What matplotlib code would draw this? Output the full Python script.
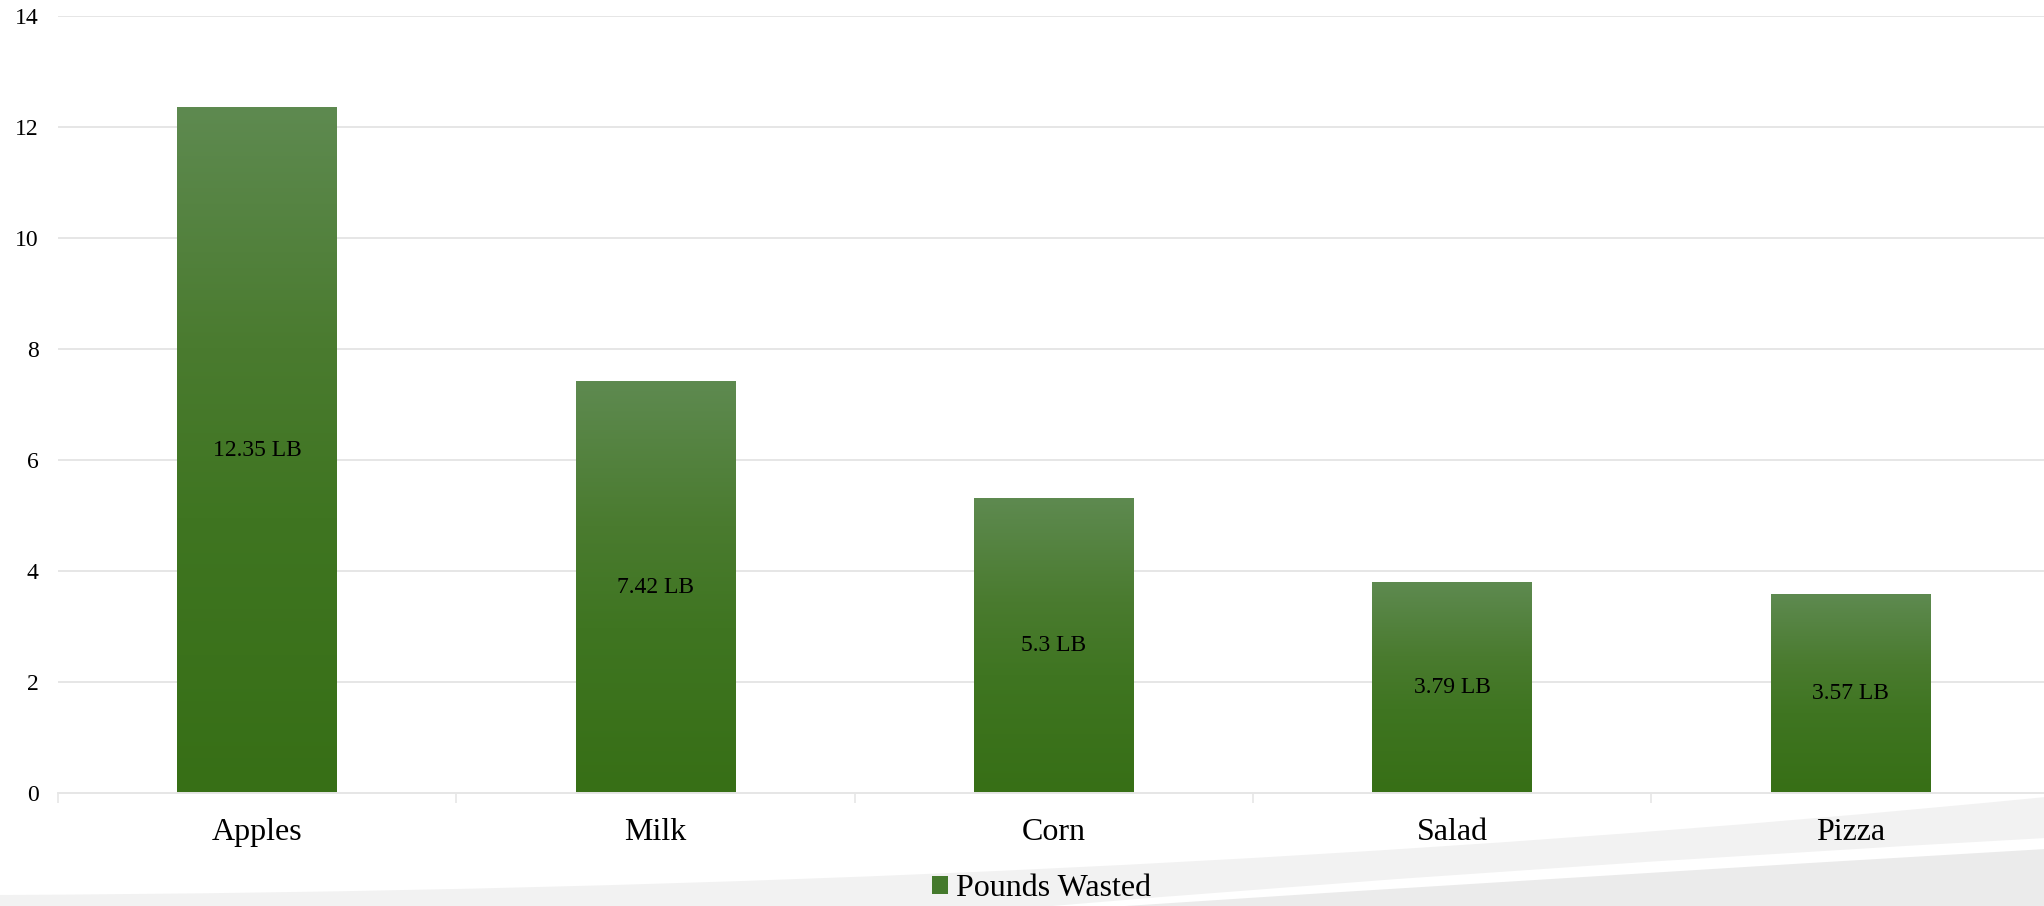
"""Pounds of food wasted per item (bar chart with gradient fills)."""

import matplotlib
matplotlib.use("Agg")
import matplotlib.pyplot as plt  # noqa: E402
import numpy as np  # noqa: E402
from matplotlib.colors import LinearSegmentedColormap  # noqa: E402
from matplotlib.patches import Patch, PathPatch  # noqa: E402
from matplotlib.path import Path  # noqa: E402

categories = ["Apples", "Milk", "Corn", "Salad", "Pizza"]
pounds = [12.35, 7.42, 5.3, 3.79, 3.57]
y_ticks = [0, 2, 4, 6, 8, 10, 12, 14]
series_name = "Pounds Wasted"

W, H = 2044, 906
FONT = ["Liberation Serif", "DejaVu Serif"]
# bottom -> top of each bar
GREEN_STOPS = [(0.0, "#376f16"), (0.4, "#3f7521"), (0.65, "#4a7b2f"),
               (1.0, "#5e8a50")]
GRID = "#e6e6e6"

plt.rcParams["font.family"] = FONT

fig = plt.figure(figsize=(W / 100, H / 100), dpi=100)
fig.patch.set_facecolor("white")


def _swoosh(p0, ctrl, p1, color):
    # decorative background band: curved top edge, closed along the bottom
    pts = [(x / W, 1 - y / H) for x, y in (p0, ctrl, p1)]
    verts = pts + [(pts[2][0], 0.0), (pts[0][0], 0.0), pts[0]]
    codes = [Path.MOVETO, Path.CURVE3, Path.CURVE3,
             Path.LINETO, Path.LINETO, Path.CLOSEPOLY]
    fig.patches.append(PathPatch(Path(verts, codes), transform=fig.transFigure,
                                 facecolor=color, edgecolor="none", zorder=-3))


_swoosh((0, 895), (1100, 890), (W + 2, 797), "#f2f2f2")
_swoosh((1040, 907), (1500, 868), (W + 2, 838), "white")
_swoosh((1110, 907), (1550, 878), (W + 2, 849), "#ebebeb")

ax = fig.add_axes([58 / W, 113 / H, 1991.5 / W, 777 / H])
ax.set_facecolor("none")

x = np.arange(len(categories))
width = 0.40
cmap = LinearSegmentedColormap.from_list("grn", GREEN_STOPS)
grad = np.linspace(0, 1, 256).reshape(-1, 1)

bars = ax.bar(x, pounds, width=width, color="none", edgecolor="none", zorder=2)
for b, v in zip(bars, pounds):
    x0 = b.get_x()
    ax.imshow(grad, extent=[x0, x0 + width, 0, v], origin="lower",
              aspect="auto", cmap=cmap, interpolation="bilinear", zorder=2)
    ax.text(b.get_x() + width / 2, v / 2, f"{v:g} LB", ha="center",
            va="center", fontsize=17, color="black", zorder=3)

ax.set_xlim(-0.5, len(categories) - 0.5)
ax.set_ylim(0, 14)
ax.set_yticks(y_ticks)
ax.set_xticks(x)
ax.set_xticklabels(categories, fontsize=23)
ax.set_xticks(np.arange(len(categories) + 1) - 0.5, minor=True)
ax.tick_params(axis="y", length=0, pad=14, labelsize=17)
ax.tick_params(axis="x", which="major", length=0, pad=18)
ax.tick_params(axis="x", which="minor", length=7, width=1.2, color=GRID)

ax.grid(axis="y", color=GRID, linewidth=1.4, zorder=0)
ax.set_axisbelow(True)
for side in ("left", "right", "top"):
    ax.spines[side].set_visible(False)
ax.spines["bottom"].set_color(GRID)
ax.spines["bottom"].set_linewidth(1.4)

handle = Patch(facecolor="#457a2d", edgecolor="none")
ax.legend([handle], [series_name], loc="center",
          bbox_to_anchor=(1042 / W, 1 - 889 / H),
          bbox_transform=fig.transFigure, frameon=False, fontsize=23,
          handlelength=0.5, handleheight=0.5, handletextpad=0.25,
          borderpad=0, borderaxespad=0)

fig.savefig("out.png", dpi=100, facecolor=fig.get_facecolor())
plt.close(fig)
